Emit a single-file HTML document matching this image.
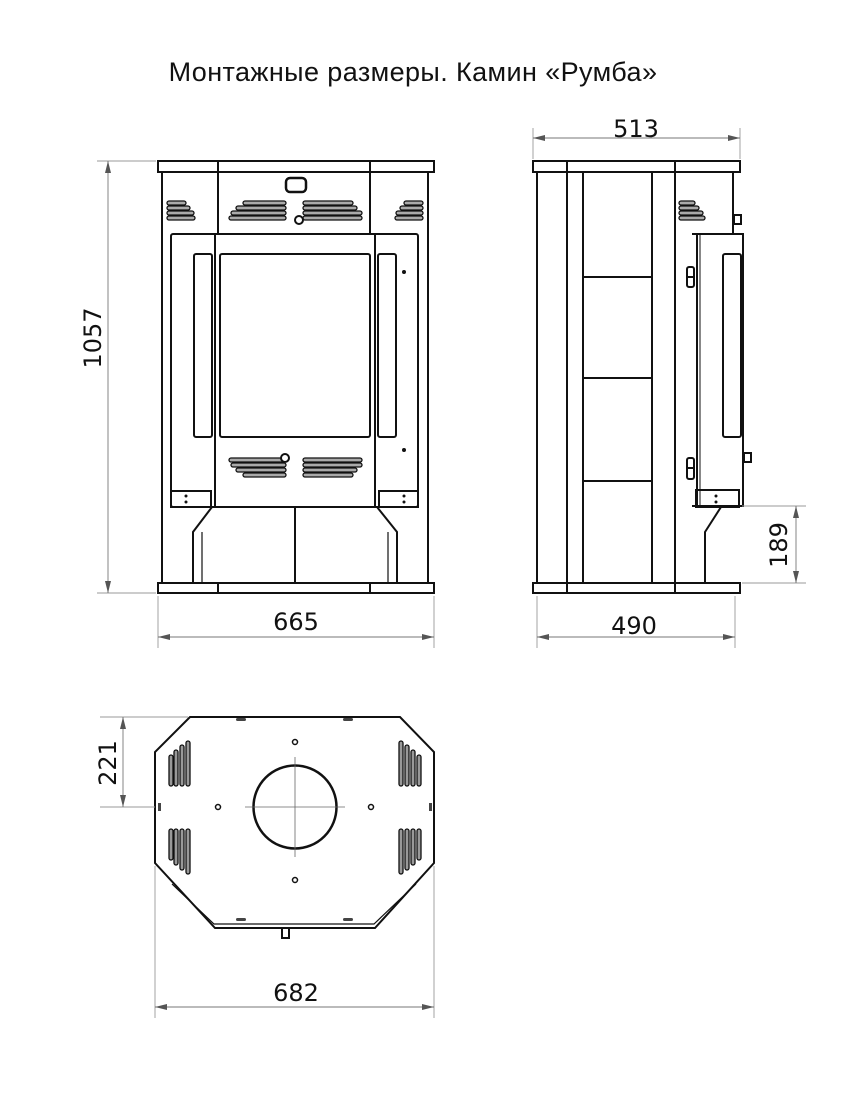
<!DOCTYPE html>
<html><head><meta charset="utf-8"><style>
html,body{margin:0;padding:0;background:#fff;width:858px;height:1100px;overflow:hidden}
svg{display:block}
text{font-family:"DejaVu Sans","Liberation Sans",sans-serif;fill:#111}
</style></head><body>
<svg width="858" height="1100" viewBox="0 0 858 1100" xmlns="http://www.w3.org/2000/svg">
<defs>
<marker id="a" viewBox="0 0 12 6" refX="12" refY="3" markerWidth="12" markerHeight="6" markerUnits="userSpaceOnUse" orient="auto-start-reverse">
<path d="M0,0 L12,3 L0,6 z" fill="#555"/></marker>
</defs>
<text x="413" y="81" font-size="27" text-anchor="middle" style="font-family:'Liberation Sans',sans-serif;letter-spacing:0.4px">Монтажные размеры. Камин «Румба»</text>

<!-- FRONT VIEW -->
<g fill="none" stroke="#111" stroke-width="2">
<rect x="158" y="161" width="276" height="11"/>
<line x1="162" y1="172" x2="162" y2="583"/><line x1="428" y1="172" x2="428" y2="583"/>
<line x1="218" y1="161" x2="218" y2="233"/><line x1="370" y1="161" x2="370" y2="233"/>
<rect x="171" y="234" width="247" height="273" rx="2"/>
<line x1="215" y1="234" x2="215" y2="507"/><line x1="375" y1="234" x2="375" y2="507"/>
<rect x="220" y="254" width="150" height="183" rx="2"/>
<rect x="194" y="254" width="18" height="183" rx="2"/>
<rect x="378" y="254" width="18" height="183" rx="2"/>
<rect x="171" y="491" width="40" height="16"/><rect x="379" y="491" width="39" height="16"/>
<polyline points="212,507 193,532 193,583"/><line x1="202" y1="532" x2="202" y2="583" stroke-width="1.2"/>
<polyline points="377,507 397,532 397,583"/><line x1="388" y1="532" x2="388" y2="583" stroke-width="1.2"/>
<line x1="295" y1="507" x2="295" y2="583"/>
<rect x="158" y="583" width="276" height="10"/>
<line x1="218" y1="583" x2="218" y2="593"/><line x1="370" y1="583" x2="370" y2="593"/>
<rect x="286" y="178" width="20" height="14" rx="4" stroke-width="2.5"/>
</g>
<g fill="#aaa" stroke="#111" stroke-width="1.3">
<rect x="243" y="201" width="43" height="4" rx="2"/><rect x="236" y="206" width="50" height="4" rx="2"/><rect x="231" y="211" width="55" height="4" rx="2"/><rect x="229" y="216" width="57" height="4" rx="2"/>
<rect x="303" y="201" width="50" height="4" rx="2"/><rect x="303" y="206" width="54" height="4" rx="2"/><rect x="303" y="211" width="59" height="4" rx="2"/><rect x="303" y="216" width="59" height="4" rx="2"/>
<rect x="167" y="201" width="19" height="4" rx="2"/><rect x="167" y="206" width="23" height="4" rx="2"/><rect x="167" y="211" width="27" height="4" rx="2"/><rect x="167" y="216" width="28" height="4" rx="2"/>
<rect x="404" y="201" width="19" height="4" rx="2"/><rect x="400" y="206" width="23" height="4" rx="2"/><rect x="396" y="211" width="27" height="4" rx="2"/><rect x="395" y="216" width="28" height="4" rx="2"/>
<rect x="229" y="458" width="57" height="4" rx="2"/><rect x="231" y="463" width="55" height="4" rx="2"/><rect x="236" y="468" width="50" height="4" rx="2"/><rect x="243" y="473" width="43" height="4" rx="2"/>
<rect x="303" y="458" width="59" height="4" rx="2"/><rect x="303" y="463" width="59" height="4" rx="2"/><rect x="303" y="468" width="54" height="4" rx="2"/><rect x="303" y="473" width="50" height="4" rx="2"/>
<rect x="679" y="201" width="16" height="4" rx="2"/><rect x="679" y="206" width="20" height="4" rx="2"/><rect x="679" y="211" width="24" height="4" rx="2"/><rect x="679" y="216" width="26" height="4" rx="2"/>
</g>
<g fill="#fff" stroke="#111" stroke-width="2">
<circle cx="299" cy="220" r="4"/><circle cx="285" cy="458" r="4"/>
</g>
<circle cx="404" cy="272" r="2" fill="#111"/><circle cx="404" cy="450" r="2" fill="#111"/>
<g fill="#111"><circle cx="186" cy="496" r="1.5"/><circle cx="186" cy="502" r="1.5"/><circle cx="404" cy="496" r="1.5"/><circle cx="404" cy="502" r="1.5"/><circle cx="716" cy="496" r="1.5"/><circle cx="716" cy="502" r="1.5"/></g>

<!-- SIDE VIEW -->
<g fill="none" stroke="#111" stroke-width="2">
<rect x="533" y="161" width="207" height="11"/>
<line x1="537" y1="172" x2="537" y2="583"/>
<line x1="567" y1="161" x2="567" y2="593"/><line x1="675" y1="161" x2="675" y2="593"/>
<rect x="583" y="172" width="69" height="411"/>
<line x1="583" y1="277" x2="652" y2="277"/><line x1="583" y1="378" x2="652" y2="378"/><line x1="583" y1="481" x2="652" y2="481"/>
<line x1="733" y1="172" x2="733" y2="233"/>
<polyline points="692,234 743,234 743,506 692,506"/>
<line x1="697" y1="234" x2="697" y2="506"/><line x1="700" y1="234" x2="700" y2="506" stroke-width="1"/>
<rect x="723" y="254" width="18" height="183" rx="2"/>
<rect x="734" y="215" width="7" height="9"/><rect x="744" y="453" width="7" height="9"/>
<rect x="687" y="267" width="7" height="20" rx="2"/><line x1="687" y1="277" x2="694" y2="277"/>
<rect x="687" y="458" width="7" height="21" rx="2"/><line x1="687" y1="468" x2="694" y2="468"/>
<rect x="696" y="490" width="43" height="17"/>
<polyline points="721,507 705,532 705,583"/>
<rect x="533" y="583" width="207" height="10"/>
</g>

<!-- TOP VIEW -->
<g fill="none" stroke="#111" stroke-width="2">
<polygon points="190,717 400,717 434,752 434,863 375,928 215,928 155,863 155,752"/>
<polyline points="172,884 214,924 374,924 416,884" stroke-width="1.2"/>
<circle cx="295" cy="807" r="41.5" stroke-width="2.5"/>
<g stroke-width="1.5"><circle cx="295" cy="742" r="2.5"/><circle cx="295" cy="880" r="2.5"/><circle cx="218" cy="807" r="2.5"/><circle cx="371" cy="807" r="2.5"/></g>
<rect x="282" y="928" width="7" height="10"/>
</g>
<g fill="#444"><rect x="236" y="718" width="10" height="3" rx="1.5"/><rect x="343" y="718" width="10" height="3" rx="1.5"/><rect x="236" y="918" width="10" height="3" rx="1.5"/><rect x="343" y="918" width="10" height="3" rx="1.5"/><rect x="158" y="803" width="3" height="8"/><rect x="429" y="803" width="3" height="8"/></g>
<g fill="#999" stroke="#111" stroke-width="1.3">
<rect x="169" y="755" width="4" height="31" rx="2"/><rect x="174" y="750" width="4" height="36" rx="2"/><rect x="180" y="745" width="4" height="41" rx="2"/><rect x="186" y="741" width="4" height="45" rx="2"/>
<rect x="169" y="829" width="4" height="31" rx="2"/><rect x="174" y="829" width="4" height="36" rx="2"/><rect x="180" y="829" width="4" height="41" rx="2"/><rect x="186" y="829" width="4" height="45" rx="2"/>
<rect x="399" y="741" width="4" height="45" rx="2"/><rect x="405" y="745" width="4" height="41" rx="2"/><rect x="411" y="750" width="4" height="36" rx="2"/><rect x="417" y="755" width="4" height="31" rx="2"/>
<rect x="399" y="829" width="4" height="45" rx="2"/><rect x="405" y="829" width="4" height="41" rx="2"/><rect x="411" y="829" width="4" height="36" rx="2"/><rect x="417" y="829" width="4" height="31" rx="2"/>
</g>
<g stroke="#666" stroke-width="0.8">
<line x1="245" y1="807" x2="345" y2="807"/><line x1="295" y1="757" x2="295" y2="857"/>
</g>

<!-- DIMENSIONS -->
<g stroke="#999" stroke-width="0.9" fill="none">
<line x1="97" y1="161" x2="156" y2="161"/><line x1="97" y1="593" x2="156" y2="593"/>
<line x1="158" y1="596" x2="158" y2="648"/><line x1="434" y1="596" x2="434" y2="648"/>
<line x1="533" y1="128" x2="533" y2="159"/><line x1="740" y1="128" x2="740" y2="159"/>
<line x1="537" y1="596" x2="537" y2="648"/><line x1="735" y1="596" x2="735" y2="648"/>
<line x1="742" y1="506" x2="806" y2="506"/><line x1="742" y1="583" x2="806" y2="583"/>
<line x1="100" y1="717" x2="188" y2="717"/><line x1="100" y1="807" x2="155" y2="807"/>
<line x1="155" y1="866" x2="155" y2="1018"/><line x1="434" y1="866" x2="434" y2="1018"/>
</g>
<g stroke="#777" stroke-width="0.9" marker-start="url(#a)" marker-end="url(#a)">
<line x1="108" y1="161" x2="108" y2="593"/>
<line x1="158" y1="637" x2="434" y2="637"/>
<line x1="533" y1="138" x2="740" y2="138"/>
<line x1="537" y1="637" x2="735" y2="637"/>
<line x1="796" y1="506" x2="796" y2="583"/>
<line x1="123" y1="717" x2="123" y2="807"/>
<line x1="155" y1="1007" x2="434" y2="1007"/>
</g>
<g font-size="24" text-anchor="middle">
<text x="296" y="630">665</text>
<text x="636" y="137">513</text>
<text x="634" y="634">490</text>
<text x="296" y="1001">682</text>
<text transform="translate(101,338) rotate(-90)">1057</text>
<text transform="translate(787,545) rotate(-90)">189</text>
<text transform="translate(116,763) rotate(-90)">221</text>
</g>
</svg>
</body></html>
